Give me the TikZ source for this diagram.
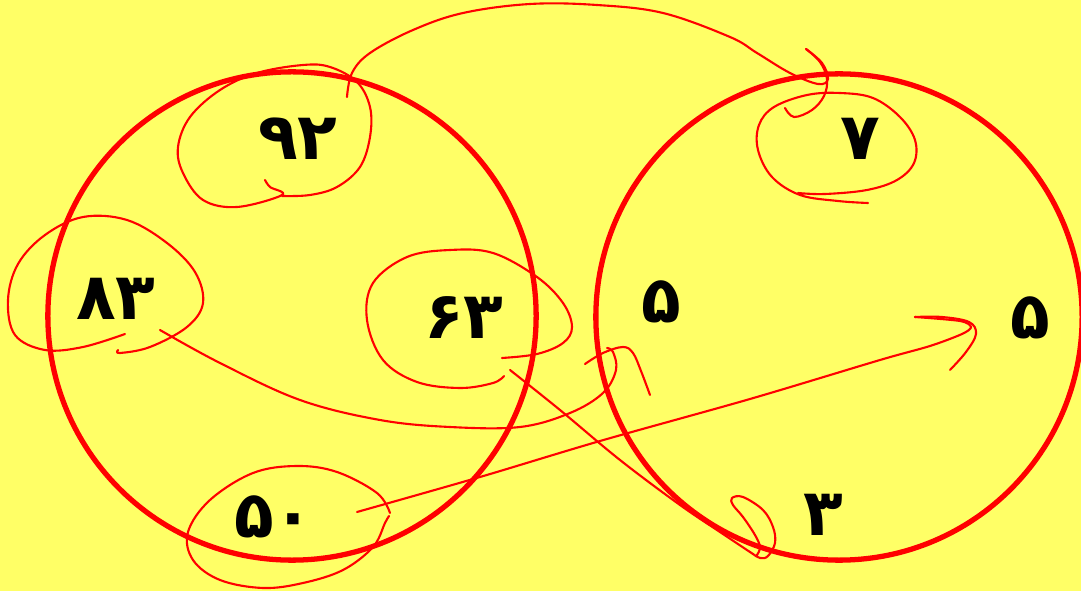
\documentclass[tikz,border=0pt]{standalone}
\usepackage{fontspec}
\usepackage{tikz}
\usetikzlibrary{calc}
\newfontfamily\persianfont[Script=Arabic]{DejaVu Sans}
\definecolor{padyellow}{HTML}{FFFF66}
\definecolor{penred}{HTML}{FF0000}
\tikzset{
  setring/.style={draw=penred,circle,line width=1.5pt,inner sep=0pt},
  digit/.style={font=\persianfont\bfseries\fontsize{18.5}{22}\selectfont,inner sep=0pt},
  scribble/.style={draw=penred,line width=0.6pt,line cap=round,line join=round}
}
\begin{document}
\begin{tikzpicture}[x=0.01cm,y=-0.01cm]
      \fill[padyellow] (0,0) rectangle (1081,591);
      \useasboundingbox (0,0) rectangle (1081,591);
      \node[setring,minimum size=4.88cm] (setA) at (292,316) {};
      \node[setring,minimum size=4.86cm] (setB) at (839,317) {};

      \node[digit] (n92) at (298,139) {۹۲};
      \node[digit] (n83) at (116,299) {۸۳};
      \node[digit] (n63) at (464,317) {۶۳};
      \node[digit] (n50) at (274,517) {۵۰};

      \node[digit] (n7) at (860,139) {۷};
      \node[digit] (n5a) at (661,302) {۵};
      \node[digit] (n5b) at (1030,318) {۵};
      \node[digit] (n3) at (823,515) {۳};

      % loops and strokes
      \draw[scribble] plot[smooth,tension=0.6] coordinates {(265,180) (270,187) (282,195) (237,207) (203,200) (183,173) (178,147) (190,117) (220,90) (257,73) (303,65) (330,67) (357,82) (370,107) (370,137) (360,167) (337,187) (310,195) (282,196)};
      \draw[scribble] plot[smooth,tension=0.6] coordinates {(347,97) (352,73) (370,53) (413,30) (463,13) (530,4) (597,5) (663,13) (730,37) (757,53) (790,73) (818,84) (828,79) (822,63) (806,49)};
      \draw[scribble] plot[smooth,tension=0.6] coordinates {(806,49) (820,62) (827,79) (824,96) (812,110) (794,117) (785,108)};
      \draw[scribble] plot[smooth,tension=0.6] coordinates {(868,203) (838,201) (800,195) (772,177) (758,150) (759,125) (774,107) (807,95) (840,93) (873,98) (900,117) (915,140) (914,163) (897,180) (867,190) (825,194) (798,193)};

      \draw[scribble] plot[smooth,tension=0.6] coordinates {(125,334) (83,347) (45,350) (15,335) (8,300) (18,264) (45,235) (83,217) (127,220) (167,243) (195,272) (203,303) (187,327) (150,347) (120,353) (118,350)};
      \draw[scribble] plot[smooth,tension=0.6] coordinates {(160,330) (220,363) (300,400) (380,420) (450,427) (520,427) (570,413) (603,393) (616,370) (613,352) (607,348)};
      \draw[scribble] plot[smooth,tension=0.6] coordinates {(585,364) (603,353) (623,347) (633,353) (641,371) (650,395)};

      \draw[scribble] plot[smooth,tension=0.6] coordinates {(502,358) (537,354) (563,343) (572,327) (563,303) (537,277) (493,253) (450,250) (407,257) (373,283) (367,320) (383,360) (417,382) (460,388) (493,383) (504,376)};
      \draw[scribble] plot[smooth,tension=0.6] coordinates {(510,370) (560,410) (620,460) (680,505) (720,532) (750,552) (760,558) (768,556) (775,543) (773,527) (763,510) (743,497) (732,498) (733,505) (743,517) (755,535) (760,547) (757,555)};

      \draw[scribble] plot[smooth,tension=0.6] coordinates {(390,513) (377,493) (337,472) (297,466) (253,473) (210,500) (188,532) (193,560) (220,580) (263,588) (303,583) (343,570) (373,547) (385,523) (389,516)};
      \draw[scribble] plot[smooth,tension=0.5] coordinates {(357,512) (480,477) (600,441) (750,399) (880,360) (930,346) (962,334) (971,327) (960,321) (915,317)};
      \draw[scribble] plot[smooth,tension=0.6] coordinates {(915,317) (942,317) (969,322) (976,334) (966,352) (950,370)};
    \end{tikzpicture}
\end{document}
